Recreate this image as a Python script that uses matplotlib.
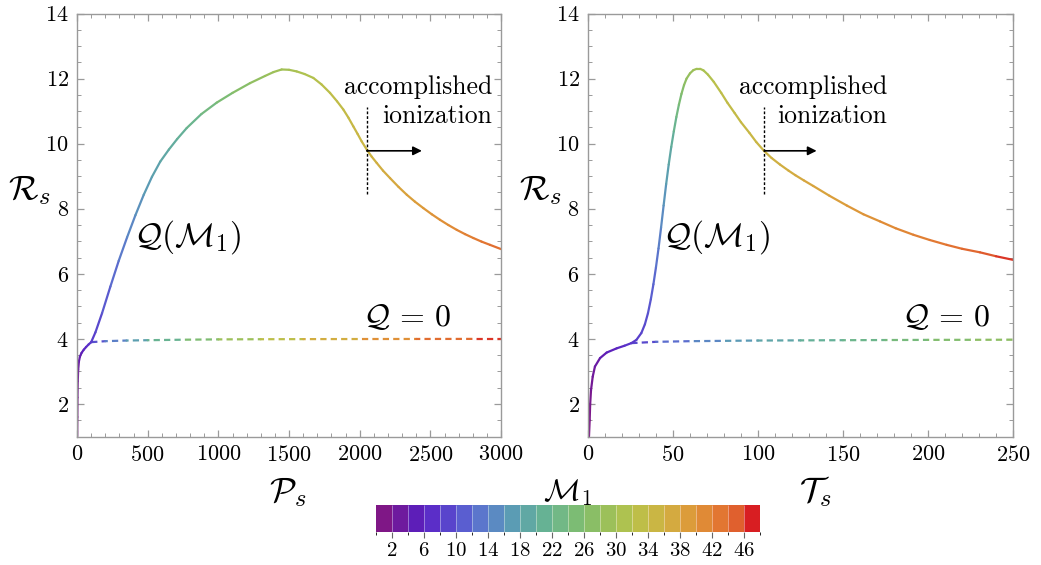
import matplotlib
matplotlib.use('Agg')
import matplotlib.pyplot as plt
import numpy as np
from matplotlib.collections import LineCollection
from matplotlib.colors import ListedColormap, LinearSegmentedColormap, BoundaryNorm, Normalize
from matplotlib.ticker import MultipleLocator
import matplotlib.colorbar as mcolorbar

plt.rcParams['font.family'] = 'serif'
plt.rcParams['font.serif'] = ['cmr10']
plt.rcParams['mathtext.fontset'] = 'cm'
plt.rcParams['axes.formatter.use_mathtext'] = True
plt.rcParams['lines.scale_dashes'] = False

# left panel, solid branch Q(M1): P_s, R_s, M1
ps_solid = [1, 2, 3, 5, 8, 13, 20, 32, 48, 64, 82, 100,
            130, 177, 236, 295, 354, 413, 472, 530, 589, 650, 708, 776, 880, 988,
            1100, 1224, 1330, 1390, 1448, 1500, 1554, 1610, 1672, 1730, 1790, 1840,
            1884, 1920, 1955, 1985, 2014, 2054, 2085, 2120, 2165, 2215, 2275, 2333,
            2390, 2450, 2510, 2568, 2627, 2687, 2745, 2804, 2862, 2922, 3000]
rs_solid_p = [1.00, 1.60, 2.20, 2.70, 3.05, 3.30, 3.45, 3.57, 3.67, 3.75, 3.83, 3.90,
              4.20, 4.79, 5.61, 6.40, 7.12, 7.80, 8.43, 8.98, 9.45, 9.82, 10.14, 10.48,
              10.91, 11.26, 11.56, 11.86, 12.08, 12.20, 12.28, 12.27, 12.22, 12.14, 12.02,
              11.82, 11.56, 11.30, 11.05, 10.80, 10.53, 10.30, 10.07, 9.79, 9.60, 9.41,
              9.17, 8.94, 8.67, 8.43, 8.22, 8.02, 7.83, 7.66, 7.50, 7.35, 7.22, 7.10,
              6.99, 6.89, 6.76]
m1_solid_p = [1, 1.3, 1.8, 2.4, 3, 3.6, 4.3, 5, 5.8, 6.6, 7.3, 8,
              9, 10, 11.5, 12.7, 14, 15.3, 16.4, 17.4, 18.4, 19.3, 20.1, 21,
              22.6, 24.3, 25.8, 27.3, 28.4, 29, 29.6, 30, 30.5, 31, 31.6,
              32.2, 32.8, 33.3, 33.7, 34.1, 34.4, 34.7, 34.9, 35.2, 35.6, 36,
              36.5, 37, 37.6, 38.2, 38.7, 39.2, 39.7, 40.2, 40.7, 41.2, 41.7, 42.2,
              42.7, 43.2, 43.8]

# left panel, dashed branch Q = 0
ps_dash = [100, 200, 350, 500, 750, 1000, 1300, 1600, 2000, 2400, 2800, 3000]
rs_dash_p = [3.90, 3.93, 3.95, 3.96, 3.975, 3.985, 3.99, 3.993, 3.996, 3.998, 4.0, 4.0]
m1_dash_p = [8, 12, 16, 19, 23.5, 27, 31, 34.5, 38.5, 42, 45.5, 47]

# right panel, solid branch: T_s, R_s, M1
ts_solid = [0.6, 1.0, 1.3, 1.8, 2.8, 4.1, 7.1, 11, 16.9, 21.5, 25.5,
            28.5, 31.4, 33.5, 35.3, 37, 38.5, 40, 41.5, 43, 44.5, 46, 47.5, 49, 50.5,
            52, 53.5, 55, 56.5, 58, 60, 62, 64, 66, 68, 70.6, 74, 78.4, 82, 86.3, 90,
            95, 99, 103.7, 108, 112.9, 118, 122, 127, 132.5, 142, 152.2, 162, 171.8,
            181, 191.4, 201, 211, 220, 230.6, 240, 250]
rs_solid_t = [1.00, 1.50, 2.00, 2.43, 2.84, 3.15, 3.41, 3.58, 3.71, 3.79, 3.87,
              3.97, 4.18, 4.45, 4.79, 5.22, 5.68, 6.20, 6.78, 7.42, 8.10, 8.76, 9.36,
              9.90, 10.38, 10.82, 11.20, 11.53, 11.80, 12.00, 12.16, 12.26, 12.30, 12.30,
              12.25, 12.12, 11.90, 11.56, 11.26, 10.94, 10.66, 10.33, 10.05, 9.77, 9.56,
              9.36, 9.17, 9.03, 8.87, 8.70, 8.40, 8.10, 7.83, 7.61, 7.40, 7.20, 7.04,
              6.89, 6.77, 6.66, 6.54, 6.43]
m1_solid_t = [1, 1.25, 1.6, 2.1, 2.7, 3.2, 4.1, 5, 6.1, 7, 8,
              8.3, 9, 9.5, 10, 10.8, 11.6, 12.3, 13.3, 14.5, 15.7, 16.8, 18.2,
              19.4, 20.8, 22.5, 24, 25.7, 27, 27.9, 28.6, 29.1, 29.6, 30,
              30.4, 31, 32.1, 32.8, 33.4, 33.9, 34.2, 34.6, 34.9, 35.2, 35.7,
              36.1, 36.5, 36.9, 37.3, 37.7, 38.4, 39.1, 39.8, 40.4, 41, 41.6, 42.2,
              43, 43.8, 44.6, 45.6, 46.8]

# right panel, dashed branch
ts_dash = [25.5, 40, 60, 80, 100, 125, 150, 175, 200, 225, 250]
rs_dash_t = [3.87, 3.91, 3.93, 3.94, 3.95, 3.955, 3.96, 3.965, 3.97, 3.972, 3.975]
m1_dash_t = [8, 11, 13.5, 16, 17.5, 19.5, 21.5, 23, 25, 26.5, 28]

# colour bins of M1 (0..48, width 2)
bin_colors = ['#7f1786', '#6e1a9e', '#5d1eb8', '#5b2ec8', '#5944cc', '#5a5ed0',
              '#5b76cc', '#5b8ac2', '#5b9cb4', '#60a8a4', '#66b294', '#72b886',
              '#7cbc74', '#8abe66', '#9cc05a', '#aec250', '#bebe48', '#cab644',
              '#d4aa40', '#dc9c3a', '#e08a36', '#e27632', '#e0602e', '#d81e22']
m1_bounds = list(range(0, 50, 2))
m1_ticks = list(range(2, 48, 4))

anchors = [(0.0, bin_colors[0])] + [((2*i + 1) / 48, c) for i, c in enumerate(bin_colors)] + [(1.0, bin_colors[-1])]
line_cmap = LinearSegmentedColormap.from_list('rainbow_m1', anchors)
line_norm = Normalize(0, 48)

frame_col = '#9a9a9a'


def colored_line(ax, x, y, m, lw=1.6, z=2.3):
    x = np.asarray(x, float)
    y = np.asarray(y, float)
    m = np.asarray(m, float)
    pts = np.column_stack([x, y])
    segs = np.stack([pts[:-1], pts[1:]], axis=1)
    mid = 0.5 * (m[:-1] + m[1:])
    lc = LineCollection(segs, colors=line_cmap(line_norm(mid)), linewidths=lw,
                        zorder=z, capstyle='round', joinstyle='round')
    ax.add_collection(lc)


def dashed_line(ax, x, y, m):
    colored_line(ax, x, y, m, lw=1.6, z=2.0)
    # white overlay punches the gaps so the dash rhythm stays even
    ax.plot(x, y, color='white', lw=2.8, linestyle=(3.0, (3.0, 4.5)),
            solid_capstyle='butt', dash_capstyle='butt', zorder=2.1)


def style_axes(ax, xmax, xmajor, xminor):
    ax.set_xlim(0, xmax)
    ax.set_ylim(1, 14)
    ax.xaxis.set_major_locator(MultipleLocator(xmajor))
    ax.xaxis.set_minor_locator(MultipleLocator(xminor))
    ax.yaxis.set_minor_locator(MultipleLocator(0.5))
    ax.set_yticks([2, 4, 6, 8, 10, 12, 14])
    for s in ax.spines.values():
        s.set_color(frame_col)
        s.set_linewidth(1.0)
    ax.tick_params(which='both', direction='in', top=True, right=True,
                   color=frame_col, labelsize=16, pad=6)
    ax.tick_params(which='major', length=5, width=0.9)
    ax.tick_params(which='minor', length=3, width=0.7)


fig = plt.figure(figsize=(10.41, 5.65), dpi=100)
ax1 = fig.add_axes([0.074, 0.2274, 0.4073, 0.7487])
ax2 = fig.add_axes([0.5648, 0.2274, 0.4083, 0.7487])

style_axes(ax1, 3000, 500, 100)
style_axes(ax2, 250, 50, 10)

dashed_line(ax1, ps_dash, rs_dash_p, m1_dash_p)
colored_line(ax1, ps_solid, rs_solid_p, m1_solid_p)
dashed_line(ax2, ts_dash, rs_dash_t, m1_dash_t)
colored_line(ax2, ts_solid, rs_solid_t, m1_solid_t)

# annotations
for ax, xline, xarrow, xtext, xq, xq0 in [(ax1, 2050, 2440, 2936, 782, 2337),
                                          (ax2, 103.7, 134.5, 175.9, 75.9, 210.6)]:
    ax.plot([xline, xline], [8.45, 11.12], color='black', lw=1.0,
            linestyle=(0, (2.0, 1.4)), zorder=3)
    ax.annotate('', xy=(xarrow, 9.78), xytext=(xline, 9.78),
                arrowprops=dict(arrowstyle='-|>', color='black', lw=1.2,
                                mutation_scale=13, shrinkA=0, shrinkB=0), zorder=3)
    ax.text(xtext, 11.75, 'accomplished', ha='right', va='center', fontsize=18.5)
    ax.text(xtext, 10.84, 'ionization', ha='right', va='center', fontsize=18.5)
    ax.text(xq, 7.12, r'$\mathcal{Q}(\mathcal{M}_1)$', ha='center', va='center', fontsize=24)
    ax.text(xq0, 4.67, r'$\mathcal{Q}\,=\,0$', ha='center', va='center', fontsize=23)
    ax.text(-0.112, 0.583, r'$\mathcal{R}_s$', transform=ax.transAxes,
            ha='center', va='center', fontsize=25)

ax1.text(0.4965, -0.131, r'$\mathcal{P}_s$', transform=ax1.transAxes,
         ha='center', va='center', fontsize=25)
ax2.text(0.534, -0.131, r'$\mathcal{T}_s$', transform=ax2.transAxes,
         ha='center', va='center', fontsize=25)

# colour bar for M1
cax = fig.add_axes([0.3612, 0.0584, 0.3689, 0.0478])
cb = mcolorbar.ColorbarBase(cax, cmap=ListedColormap(bin_colors),
                            norm=BoundaryNorm(m1_bounds, len(bin_colors)),
                            orientation='horizontal', ticks=m1_ticks, drawedges=True)
cb.outline.set_visible(False)
cb.dividers.set_color('white')
cb.dividers.set_linewidth(0.6)
cb.dividers.set_alpha(0.45)
cax.tick_params(direction='out', length=4, width=0.8, color='#666666',
                labelsize=15, pad=3)
fig.text(0.5456, 0.1274, r'$\mathcal{M}_1$', ha='center', va='center', fontsize=22)

fig.savefig('out.png', dpi=100)
